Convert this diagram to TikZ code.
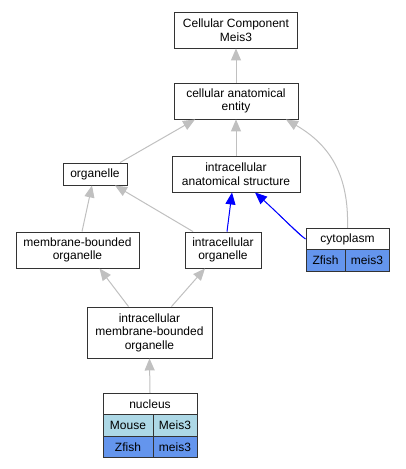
\documentclass[tikz,border=0pt]{standalone}
\usepackage{fontspec}
\setmainfont{Liberation Sans}
\usetikzlibrary{arrows.meta,calc}
\definecolor{edgegray}{HTML}{C0C0C0}
\definecolor{boxline}{HTML}{333333}
\definecolor{lblue}{HTML}{ADD8E6}
\definecolor{cblue}{HTML}{6495ED}
\tikzset{
  term/.style={draw=boxline, line width=0.9pt, fill=white, inner sep=0pt, align=center, font=\fontsize{12}{13.5}\selectfont},
  cell/.style={term, minimum height=21.5pt},
  edge/.style={draw=edgegray, line width=1pt, -{Triangle[length=12pt,width=10pt]}},
  bedge/.style={draw=blue, line width=1pt, -{Triangle[length=12pt,width=10pt]}, fill=blue},
}
\begin{document}
\begin{tikzpicture}[x=1pt,y=-1pt]
\useasboundingbox (0,0) rectangle (405,469);
\node[term, minimum width=123pt, minimum height=36pt] (ccm) at (236,30) {Cellular Component\\Meis3};
\node[term, minimum width=124pt, minimum height=36pt] (cae) at (236,101) {cellular anatomical\\entity};
\node[term, minimum width=64pt, minimum height=22pt] (org) at (95,174) {organelle};
\node[term, minimum width=128pt, minimum height=36pt] (ias) at (236,174) {intracellular\\anatomical structure};
\node[term, minimum width=123pt, minimum height=36pt] (mbo) at (77.5,250) {membrane-bounded\\organelle};
\node[term, minimum width=76pt, minimum height=36pt] (io) at (223,250) {intracellular\\organelle};
\node[cell, minimum width=83pt] (cyt) at (347.5,239) {cytoplasm};
\node[cell, minimum width=39pt, fill=cblue] (cytz) at (325.5,260.5) {Zfish};
\node[cell, minimum width=44pt, fill=cblue] (cytm) at (367,260.5) {meis3};
\node[term, minimum width=125pt, minimum height=51pt] (imbo) at (149.5,332.5) {intracellular\\membrane-bounded\\organelle};
\node[cell, minimum width=94pt] (nuc) at (150,404) {nucleus};
\node[cell, minimum width=50pt, fill=lblue] (nucmo) at (128,425.5) {Mouse};
\node[cell, minimum width=44pt, fill=lblue] (nucmm) at (175,425.5) {Meis3};
\node[cell, minimum width=50pt, fill=cblue] (nuczf) at (128,447) {Zfish};
\node[cell, minimum width=44pt, fill=cblue] (nuczm) at (175,447) {meis3};

\draw[edge] (cae.north) -- (ccm.south);
\draw[edge] ([xshift=25pt]org.north) -- ([xshift=-41pt]cae.south);
\draw[edge] (ias.north) -- (cae.south);
\draw[edge] (cyt.north) .. controls (349,175) and (330,145) .. ([xshift=50pt]cae.south);
\draw[edge] ([xshift=4.5pt]mbo.north) -- ([xshift=-3pt]org.south);
\draw[edge] ([xshift=-30pt]io.north) -- ([xshift=20pt]org.south);
\draw[bedge] ([xshift=4pt]io.north) -- ([xshift=-4pt]ias.south);
\draw[bedge] (cyt.west) .. controls (298,234) and (280,215) .. ([xshift=19pt]ias.south);
\draw[edge] ([xshift=-21pt]imbo.north) -- ([xshift=22pt]mbo.south);
\draw[edge] ([xshift=22pt]imbo.north) -- ([xshift=-18pt]io.south);
\draw[edge] (nuc.north) -- (imbo.south);
\end{tikzpicture}
\end{document}
